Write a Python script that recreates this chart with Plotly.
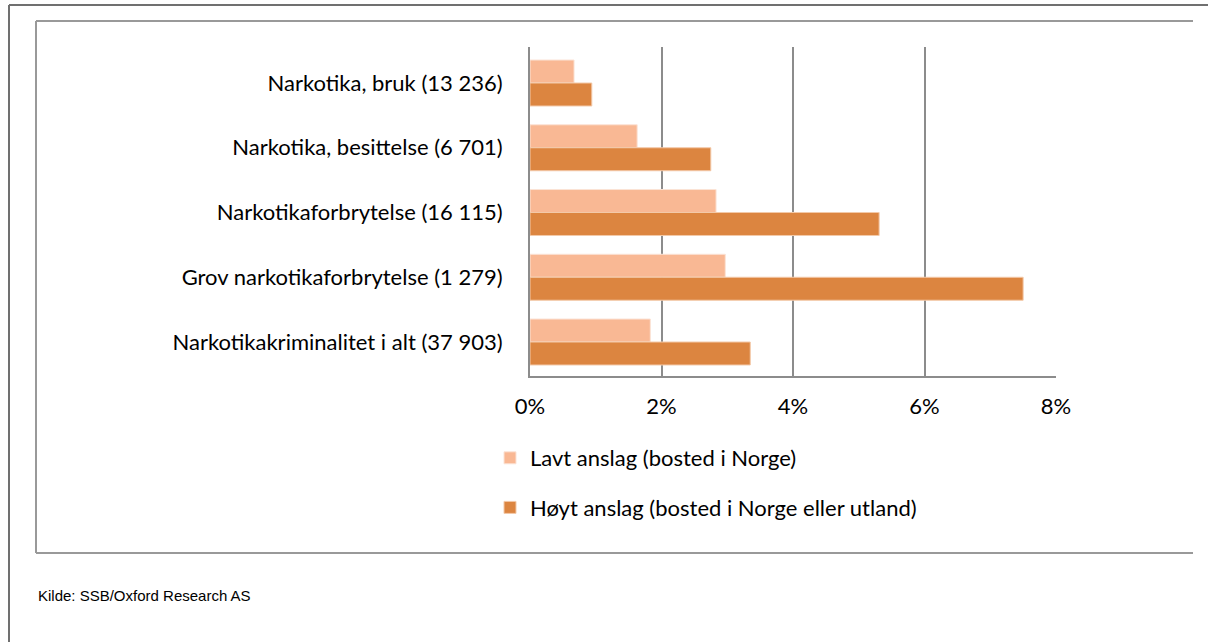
import plotly.graph_objects as go

# Data
kategorier = [
    "Narkotika, bruk (13 236)",
    "Narkotika, besittelse (6 701)",
    "Narkotikaforbrytelse (16 115)",
    "Grov narkotikaforbrytelse (1 279)",
    "Narkotikakriminalitet i alt (37 903)",
]
lavt = [0.0067, 0.0163, 0.0283, 0.0297, 0.0183]
hoyt = [0.0094, 0.0275, 0.0531, 0.0750, 0.0335]
x_ticks = [0, 0.02, 0.04, 0.06, 0.08]
x_ticktext = ["0%", "2%", "4%", "6%", "8%"]

# body margin is removed in the page, so figure coords = screen coords
W, H = 1208, 642
L, R, T, B = 530, 1056, 47, 376


def px(x):
    return (x - L) / (R - L)


def py(y):
    return (B - y) / (B - T)


font_main = "Lato, 'Open Sans', sans-serif"

fig = go.Figure()
fig.add_trace(go.Bar(
    y=kategorier, x=lavt, orientation="h", name="Lavt anslag (bosted i Norge)",
    marker=dict(color="#F9B894", line=dict(color="#FBE3D6", width=1)),
    legendgroup="a",
))
fig.add_trace(go.Bar(
    y=kategorier, x=hoyt, orientation="h", name="Høyt anslag (bosted i Norge eller utland)",
    marker=dict(color="#DC8540", line=dict(color="#F3C9A8", width=1)),
    legendgroup="b",
))

shapes = [
    # outer frame
    dict(type="line", xref="paper", yref="paper", x0=px(9), x1=px(1210), y0=py(5), y1=py(5),
         line=dict(color="#707070", width=2)),
    dict(type="line", xref="paper", yref="paper", x0=px(9), x1=px(9), y0=py(5), y1=py(645),
         line=dict(color="#707070", width=2)),
    # inner frame
    dict(type="line", xref="paper", yref="paper", x0=px(36), x1=px(1193), y0=py(21), y1=py(21),
         line=dict(color="#999999", width=2)),
    dict(type="line", xref="paper", yref="paper", x0=px(36), x1=px(1193), y0=py(553), y1=py(553),
         line=dict(color="#999999", width=2)),
    dict(type="line", xref="paper", yref="paper", x0=px(36), x1=px(36), y0=py(21), y1=py(553),
         line=dict(color="#999999", width=2)),
]

fig.update_layout(
    width=W, height=H,
    margin=dict(l=L, r=W - R, t=T, b=H - B),
    paper_bgcolor="white", plot_bgcolor="white",
    barmode="group", bargap=0.29, bargroupgap=0,
    font=dict(family=font_main, size=22, color="#000000"),
    xaxis=dict(
        range=[0, 0.08], tickvals=x_ticks, ticktext=x_ticktext,
        showgrid=True, gridcolor="#8C8C8C", gridwidth=2,
        showline=True, linecolor="#8C8C8C", linewidth=2,
        zeroline=False, ticks="", ticklen=0, ticklabelstandoff=10,
        tickfont=dict(size=22), fixedrange=True,
    ),
    yaxis=dict(
        range=[4.525, -0.556], showline=True, linecolor="#8C8C8C", linewidth=2,
        showgrid=False, ticks="", ticklabelstandoff=21,
        tickfont=dict(size=22), fixedrange=True,
    ),
    legend=dict(
        x=px(490), y=py(437), xanchor="left", yanchor="top",
        orientation="v", traceorder="grouped", tracegroupgap=18,
        font=dict(size=22), itemwidth=30, bgcolor="rgba(0,0,0,0)",
    ),
    showlegend=True,
    shapes=shapes,
    annotations=[
        dict(text="Kilde: SSB/Oxford Research AS", xref="paper", yref="paper",
             x=px(36), y=py(595), xanchor="left", yanchor="middle", showarrow=False,
             font=dict(family="'Liberation Sans Narrow', 'Arial Narrow', 'Liberation Sans', sans-serif",
                       size=15, color="#000000")),
    ],
)

fig.write_html("out.html", config={"displayModeBar": False},
               post_script="document.body.style.margin='0';")
